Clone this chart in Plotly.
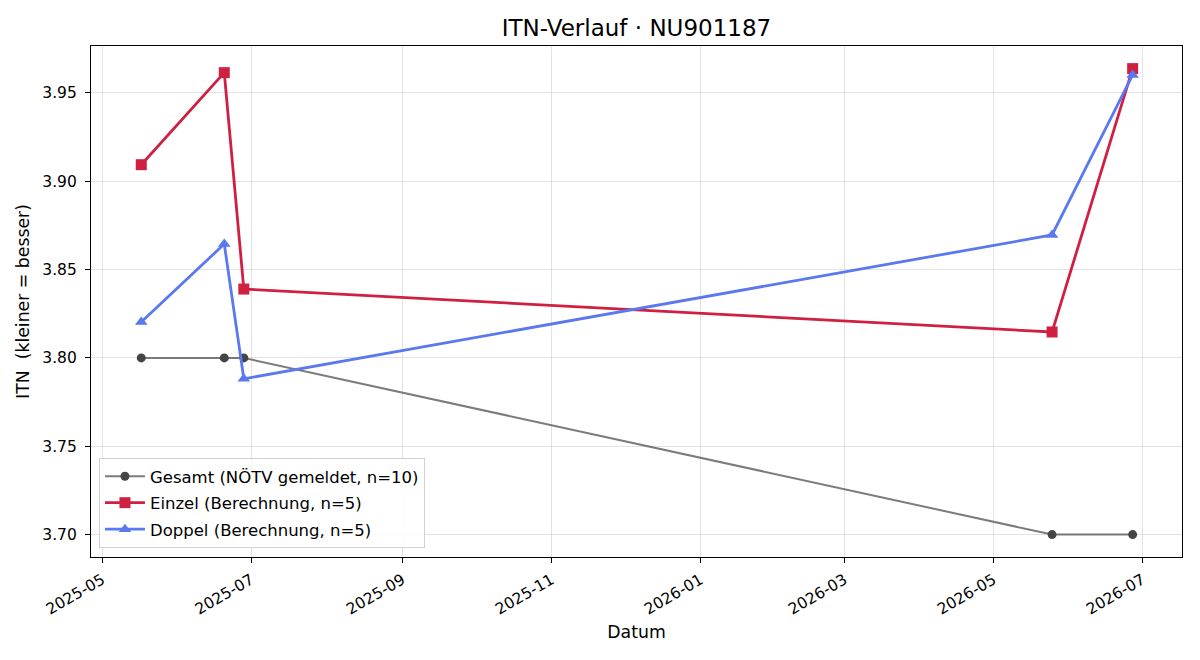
import plotly.graph_objects as go

dates_gesamt = ["2025-05-17", "2025-06-20", "2025-06-28", "2026-05-25", "2026-06-27"]
itn_gesamt = [3.80, 3.80, 3.80, 3.70, 3.70]

dates_einzel = ["2025-05-17", "2025-06-20", "2025-06-28", "2026-05-25", "2026-06-27"]
itn_einzel = [3.9094, 3.9615, 3.8390, 3.8147, 3.9638]

dates_doppel = ["2025-05-17", "2025-06-20", "2025-06-28", "2026-05-25", "2026-06-27"]
itn_doppel = [3.8203, 3.8645, 3.7882, 3.8696, 3.9602]

y_ticks = [3.70, 3.75, 3.80, 3.85, 3.90, 3.95]

FONT = "DejaVu Sans"

fig = go.Figure()
fig.add_trace(go.Scatter(
    x=dates_gesamt, y=itn_gesamt, mode="lines+markers",
    name="Gesamt (NÖTV gemeldet, n=10)", legendgroup="g",
    line=dict(color="rgba(90,90,90,0.8)", width=2),
    marker=dict(symbol="circle", size=9, color="#454545"),
))
fig.add_trace(go.Scatter(
    x=dates_einzel, y=itn_einzel, mode="lines+markers",
    name="Einzel (Berechnung, n=5)", legendgroup="e",
    line=dict(color="#cf2041", width=2.8),
    marker=dict(symbol="square", size=11, color="#cf2041"),
))
fig.add_trace(go.Scatter(
    x=dates_doppel, y=itn_doppel, mode="lines+markers",
    name="Doppel (Berechnung, n=5)", legendgroup="d",
    line=dict(color="#5a78f0", width=2.8),
    marker=dict(symbol="triangle-up", size=11, color="#5a78f0"),
))

axis_common = dict(
    showline=True, linecolor="black", linewidth=1.2, mirror=True,
    ticks="outside", ticklen=5, tickcolor="black", tickwidth=1,
    showgrid=True, gridcolor="rgba(200,200,200,0.5)", gridwidth=1,
    zeroline=False,
    tickfont=dict(family=FONT, size=15.5, color="black"),
)

fig.update_layout(
    width=1200, height=660,
    margin=dict(l=91, r=18, t=46, b=103),
    paper_bgcolor="white", plot_bgcolor="white",
    font=dict(family=FONT, size=15, color="black"),
    title=dict(text="ITN-Verlauf · NU901187", x=0.5, xref="paper", xanchor="center",
               y=1 - 28 / 660, yref="container", yanchor="middle",
               font=dict(family=FONT, size=23, color="black")),
    xaxis=dict(
        **axis_common,
        type="date",
        range=["2025-04-26 10:00", "2026-07-17 05:00"],
        tick0="2025-05-01", dtick="M2", tickformat="%Y-%m",
        tickangle=-30, ticklabelstandoff=2,
        title=dict(text="Datum", font=dict(family=FONT, size=17.3, color="black"), standoff=8),
    ),
    yaxis=dict(
        **axis_common,
        range=[3.6873, 3.9766],
        tickvals=y_ticks, ticktext=[f"{v:.2f}" for v in y_ticks],
        ticklabelstandoff=5,
        title=dict(text="ITN\u00a0 (kleiner = besser)", font=dict(family=FONT, size=17.3, color="black"), standoff=8),
    ),
    legend=dict(
        x=0.0073, y=0.0176, xanchor="left", yanchor="bottom",
        bgcolor="rgba(255,255,255,0.85)", bordercolor="#d0d0d0", borderwidth=1,
        font=dict(family=FONT, size=16.5, color="black"),
        tracegroupgap=2, itemwidth=40,
    ),
    showlegend=True,
)

fig.write_html("out.html")
